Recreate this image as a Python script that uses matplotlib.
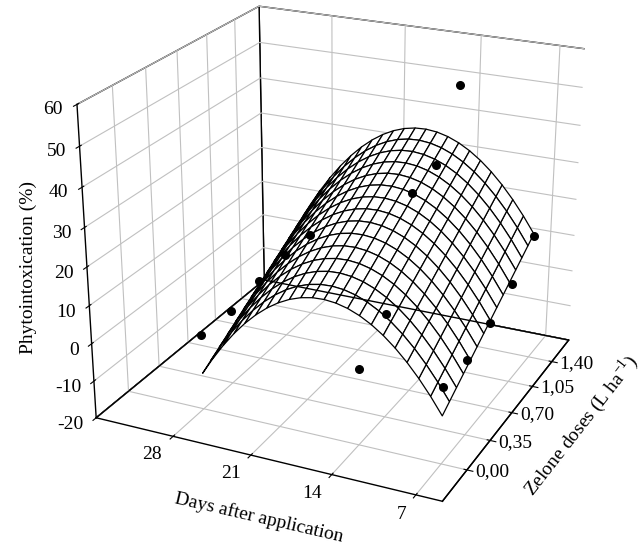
import numpy as np
import matplotlib
matplotlib.use("Agg")
import matplotlib.pyplot as plt
from matplotlib.ticker import NullFormatter

plt.rcParams['font.family'] = ['Liberation Serif', 'DejaVu Serif']
plt.rcParams['font.size'] = 14
plt.rcParams['axes.unicode_minus'] = False
plt.rcParams['grid.color'] = '#c0c0c0'
plt.rcParams['grid.linewidth'] = 0.8

# axis ticks
day_ticks = [7, 14, 21, 28]
dose_ticks = [0.00, 0.35, 0.70, 1.05, 1.40]
tox_ticks = [-20, -10, 0, 10, 20, 30, 40, 50, 60]

# observed phytointoxication (%) at each dose, per evaluation day
doses = [0.00, 0.35, 0.70, 1.05, 1.40]
tox_7 = [0, 0, 3, 7, 14]
tox_14 = [0, 7.5, 33, 35, 51]
tox_28 = [0, 0, 2, 3, 3]

# fitted surface: z = b0 + b1*day + b2*day^2 + b3*dose
b0, b1, b2, b3 = -50.56, 7.74, -0.225, 15.7

x_lo, x_hi = -0.35, 1.72     # dose axis
y_lo, y_hi = 4.85, 35.2      # days axis
z_lo, z_hi = -20, 60

day_grid = np.linspace(7, 28, 22)
dose_grid = np.linspace(0, 1.4, 15)
DOSE, DAY = np.meshgrid(dose_grid, day_grid)
TOX = b0 + b1 * DAY + b2 * DAY ** 2 + b3 * DOSE

fig = plt.figure(figsize=(6.42, 5.51), dpi=100)
ax = fig.add_axes([0.022, 0.066, 1, 1], projection='3d', computed_zorder=False)
ax.view_init(elev=23, azim=-155)
ax.set_proj_type('persp', focal_length=0.6)
ax.set_box_aspect((1.03, 1.05, 0.93), zoom=1.08)

ax.set_xlim(x_lo, x_hi)
ax.set_ylim(y_lo, y_hi)
ax.set_zlim(z_lo, z_hi)

for axis in (ax.xaxis, ax.yaxis, ax.zaxis):
    axis.set_pane_color((1, 1, 1, 1))
    axis.pane.set_edgecolor('black')
    axis.pane.set_linewidth(1.0)
    axis.line.set_color('black')
    axis.line.set_linewidth(1.0)

ax.plot_surface(DOSE, DAY, TOX, color='white', edgecolor='black',
                linewidth=0.9, shade=False, rstride=1, cstride=1, zorder=2)

# back floor edges are drawn over the surface in the original
ax.plot([x_hi, x_hi], [y_lo, y_hi], [z_lo, z_lo], color='black', lw=1.0, zorder=3)
ax.plot([x_lo, x_hi], [y_hi, y_hi], [z_lo, z_lo], color='black', lw=1.0, zorder=3)

for d, vals in ((7, tox_7), (14, tox_14), (28, tox_28)):
    ax.scatter(doses, [d] * len(doses), vals, color='black', s=30,
               depthshade=False, zorder=4)

ax.set_xticks(dose_ticks)
ax.set_yticks(day_ticks)
ax.set_zticks(tox_ticks)
for axis in (ax.xaxis, ax.yaxis, ax.zaxis):
    axis.set_major_formatter(NullFormatter())
    for tick in axis.get_major_ticks():
        tick.label1.set_visible(False)
        tick.label2.set_visible(False)

# tick labels placed next to the box edges
for d in dose_ticks:
    ax.text(d, y_lo - 0.7, z_lo, f"{d:.2f}".replace('.', ','),
            ha='left', va='center', zorder=5)
for d in day_ticks:
    ax.text(x_lo - 0.12, d, z_lo, str(d), ha='right', va='top', zorder=5)
for z in tox_ticks:
    ax.text(x_lo - 0.1, y_hi + 0.3, z, str(z), ha='right', va='center', zorder=5)

# axis titles
fig.text(0.4034, 0.0599, 'Days after application', rotation=-13,
         ha='center', va='center')
fig.text(0.905, 0.2287, r'Zelone doses (L ha$^{\mathregular{-1}}$)', rotation=52,
         ha='center', va='center')
fig.text(0.0436, 0.5154, 'Phytointoxication (%)', rotation=90,
         ha='center', va='center')

fig.savefig('out.png', dpi=100)
